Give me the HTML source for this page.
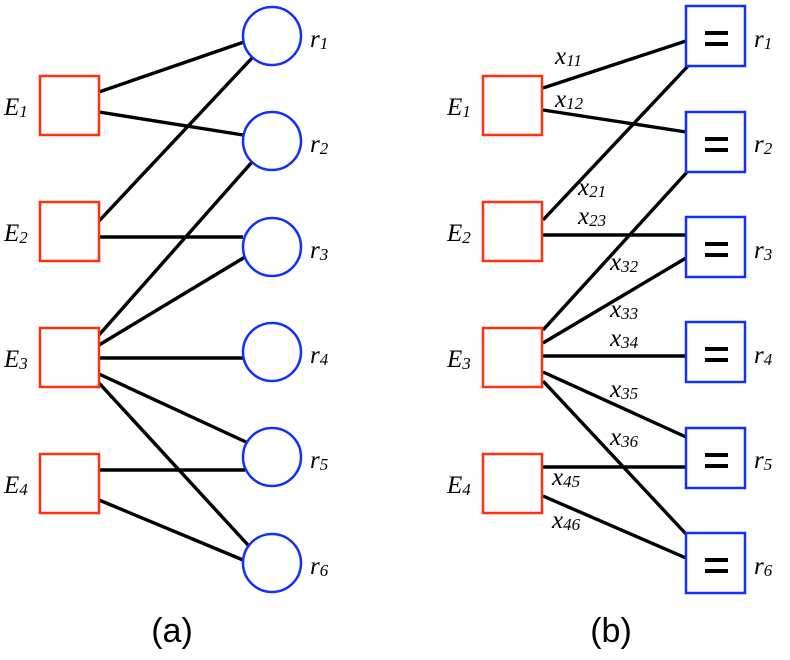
<!DOCTYPE html>
<html><head><style>
html,body{margin:0;padding:0;background:#fff}
svg text{font-family:"Liberation Serif",serif;font-style:italic;fill:#000}
</style></head><body>
<svg width="790" height="655" viewBox="0 0 790 655" xmlns="http://www.w3.org/2000/svg">
<g stroke="#000" stroke-width="3.4" fill="none">
<line x1="99" y1="92" x2="244" y2="42"/>
<line x1="99" y1="112" x2="243" y2="135"/>
<line x1="99" y1="221" x2="252" y2="58"/>
<line x1="99" y1="237" x2="243" y2="237"/>
<line x1="99" y1="335" x2="252" y2="162"/>
<line x1="99" y1="345" x2="245" y2="257"/>
<line x1="99" y1="358" x2="243" y2="358"/>
<line x1="99" y1="374" x2="246" y2="442"/>
<line x1="99" y1="383" x2="248" y2="545"/>
<line x1="99" y1="470" x2="245" y2="470"/>
<line x1="99" y1="500" x2="243" y2="560"/>
<line x1="543" y1="88" x2="686" y2="41"/>
<line x1="543" y1="110" x2="686" y2="132"/>
<line x1="543" y1="220" x2="688" y2="66"/>
<line x1="543" y1="235" x2="686" y2="235"/>
<line x1="543" y1="330" x2="688" y2="171"/>
<line x1="543" y1="343" x2="686" y2="258"/>
<line x1="543" y1="356" x2="686" y2="356"/>
<line x1="543" y1="372" x2="686" y2="437"/>
<line x1="543" y1="381" x2="686" y2="534"/>
<line x1="543" y1="467" x2="686" y2="467"/>
<line x1="543" y1="496" x2="686" y2="558"/>
</g>
<g stroke="#ff3010" stroke-width="2.5" fill="#fff">
<rect x="40" y="76" width="59" height="59"/>
<rect x="40" y="202" width="59" height="59"/>
<rect x="40" y="328" width="59" height="59"/>
<rect x="40" y="454" width="59" height="59"/>
<rect x="483" y="76" width="59" height="59"/>
<rect x="483" y="202" width="59" height="59"/>
<rect x="483" y="328" width="59" height="59"/>
<rect x="483" y="454" width="59" height="59"/>
</g>
<g stroke="#1030ff" stroke-width="2.5" fill="#fff">
<circle cx="272" cy="36" r="29"/>
<circle cx="272" cy="141" r="29"/>
<circle cx="272" cy="247" r="29"/>
<circle cx="272" cy="352" r="29"/>
<circle cx="272" cy="457" r="29"/>
<circle cx="272" cy="563" r="29"/>
<rect x="686" y="6" width="59" height="60"/>
<rect x="686" y="112" width="59" height="60"/>
<rect x="686" y="217" width="59" height="60"/>
<rect x="686" y="322" width="59" height="60"/>
<rect x="686" y="428" width="59" height="60"/>
<rect x="686" y="533" width="59" height="60"/>
</g>
<g fill="#000">
<rect x="705" y="31" width="23" height="4"/><rect x="705" y="42" width="23" height="4"/>
<rect x="705" y="137" width="23" height="4"/><rect x="705" y="148" width="23" height="4"/>
<rect x="705" y="242" width="23" height="4"/><rect x="705" y="253" width="23" height="4"/>
<rect x="705" y="347" width="23" height="4"/><rect x="705" y="358" width="23" height="4"/>
<rect x="705" y="453" width="23" height="4"/><rect x="705" y="464" width="23" height="4"/>
<rect x="705" y="558" width="23" height="4"/><rect x="705" y="569" width="23" height="4"/>
</g>
<g font-size="25">
<text x="4" y="115">E<tspan font-size="17" dy="2">1</tspan></text>
<text x="4" y="241">E<tspan font-size="17" dy="2">2</tspan></text>
<text x="4" y="367">E<tspan font-size="17" dy="2">3</tspan></text>
<text x="4" y="493">E<tspan font-size="17" dy="2">4</tspan></text>
<text x="447" y="115">E<tspan font-size="17" dy="2">1</tspan></text>
<text x="447" y="241">E<tspan font-size="17" dy="2">2</tspan></text>
<text x="447" y="367">E<tspan font-size="17" dy="2">3</tspan></text>
<text x="447" y="493">E<tspan font-size="17" dy="2">4</tspan></text>
<text x="310" y="47">r<tspan font-size="17" dy="2">1</tspan></text>
<text x="310" y="152">r<tspan font-size="17" dy="2">2</tspan></text>
<text x="310" y="258">r<tspan font-size="17" dy="2">3</tspan></text>
<text x="310" y="363">r<tspan font-size="17" dy="2">4</tspan></text>
<text x="310" y="468">r<tspan font-size="17" dy="2">5</tspan></text>
<text x="310" y="574">r<tspan font-size="17" dy="2">6</tspan></text>
<text x="754" y="47">r<tspan font-size="17" dy="2">1</tspan></text>
<text x="754" y="152">r<tspan font-size="17" dy="2">2</tspan></text>
<text x="754" y="258">r<tspan font-size="17" dy="2">3</tspan></text>
<text x="754" y="363">r<tspan font-size="17" dy="2">4</tspan></text>
<text x="754" y="468">r<tspan font-size="17" dy="2">5</tspan></text>
<text x="754" y="574">r<tspan font-size="17" dy="2">6</tspan></text>
</g>
<g font-size="25">
<text x="555" y="64">x<tspan font-size="17" dy="2">11</tspan></text>
<text x="555" y="107">x<tspan font-size="17" dy="2">12</tspan></text>
<text x="578" y="195">x<tspan font-size="17" dy="2">21</tspan></text>
<text x="578" y="224">x<tspan font-size="17" dy="2">23</tspan></text>
<text x="610" y="270">x<tspan font-size="17" dy="2">32</tspan></text>
<text x="610" y="317">x<tspan font-size="17" dy="2">33</tspan></text>
<text x="610" y="346">x<tspan font-size="17" dy="2">34</tspan></text>
<text x="610" y="397">x<tspan font-size="17" dy="2">35</tspan></text>
<text x="610" y="445">x<tspan font-size="17" dy="2">36</tspan></text>
<text x="552" y="485">x<tspan font-size="17" dy="2">45</tspan></text>
<text x="552" y="528">x<tspan font-size="17" dy="2">46</tspan></text>
</g>
<text x="172" y="642" text-anchor="middle" style="font-family:'Liberation Sans',sans-serif;font-style:normal" font-size="34">(a)</text>
<text x="611" y="642" text-anchor="middle" style="font-family:'Liberation Sans',sans-serif;font-style:normal" font-size="34">(b)</text>
</svg>
</body></html>
